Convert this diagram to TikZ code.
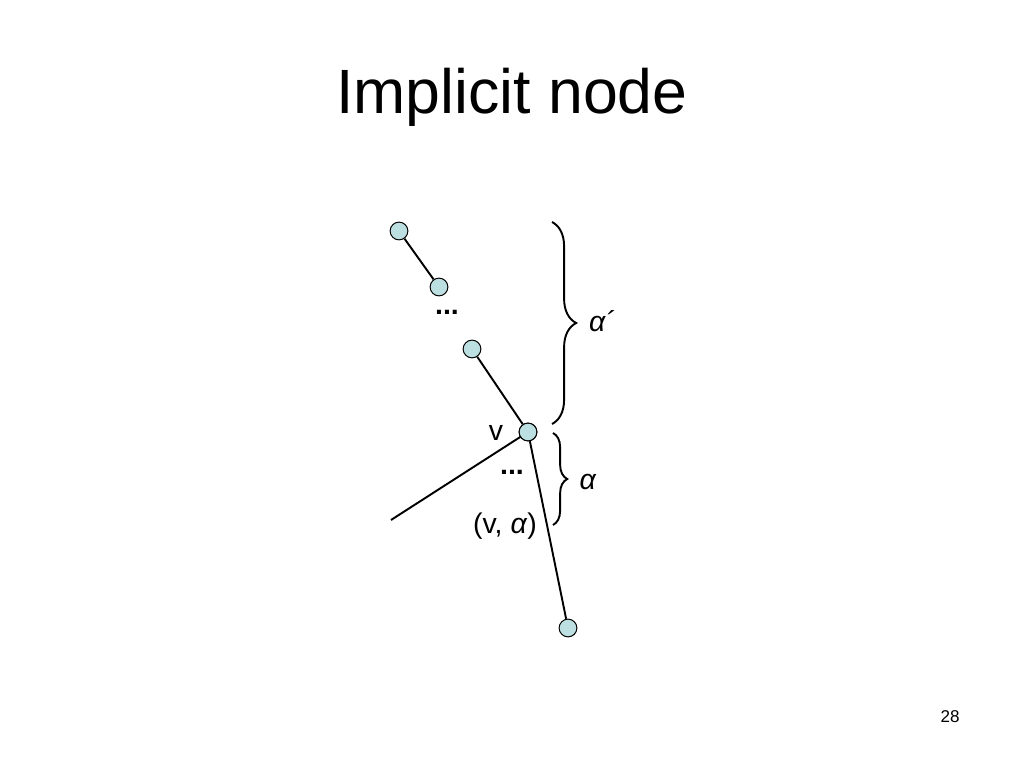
\documentclass[tikz,border=0pt]{standalone}
\usepackage{fontspec}
\setmainfont{Liberation Sans}
\usetikzlibrary{decorations.pathreplacing}
\definecolor{nodefill}{HTML}{BCDFE1}
\tikzset{
  vert/.style={circle,draw=black,fill=nodefill,line width=0.7pt,minimum size=12.5pt,inner sep=0pt},
  edge/.style={line width=1.35pt},
  lbl/.style={font=\fontsize{20}{24}\selectfont,inner sep=0pt},
  bracestyle/.style={decorate,line width=1.35pt}
}
\begin{document}
\begin{tikzpicture}[x=0.703125pt,y=-0.703125pt]
\useasboundingbox (0,0) rectangle (1024,768);
\node[font=\fontsize{44}{52}\selectfont] (title) at (512,97) {Implicit node};
\node[vert] (a) at (399,231) {};
\node[vert] (b) at (439,287) {};
\node[vert] (c) at (472,349) {};
\node[vert] (v) at (528,432) {};
\node[vert] (d) at (568,628) {};
\coordinate (free) at (391,520);
\draw[edge] (a) -- (b);
\draw[edge] (c) -- (v);
\draw[edge] (v.center) -- (free);
\draw[edge] (v) -- (d);
\node[vert] at (v) {};
\node[lbl,font=\fontsize{20}{24}\bfseries] (dots1) at (447,312) {...};
\node[lbl,font=\fontsize{20}{24}\bfseries] (dots2) at (512,472) {...};
\node[lbl] (vl) at (496,433) {v};
\node[lbl] (va) at (505,526) {(v, \textit{α})};
\coordinate (b1t) at (552,222);
\coordinate (b1b) at (552,424);
\coordinate (b2t) at (553,433);
\coordinate (b2b) at (553,525);
\draw[bracestyle,decoration={brace,amplitude=17pt}] (b1t) -- (b1b);
\draw[bracestyle,decoration={brace,amplitude=10pt}] (b2t) -- (b2b);
\node[lbl] (alp1) at (602,321) {\textit{α´}};
\node[lbl] (alp2) at (588,482) {\textit{α}};
\node[font=\fontsize{12}{14}\selectfont] (page) at (950,717) {28};
\end{tikzpicture}
\end{document}
